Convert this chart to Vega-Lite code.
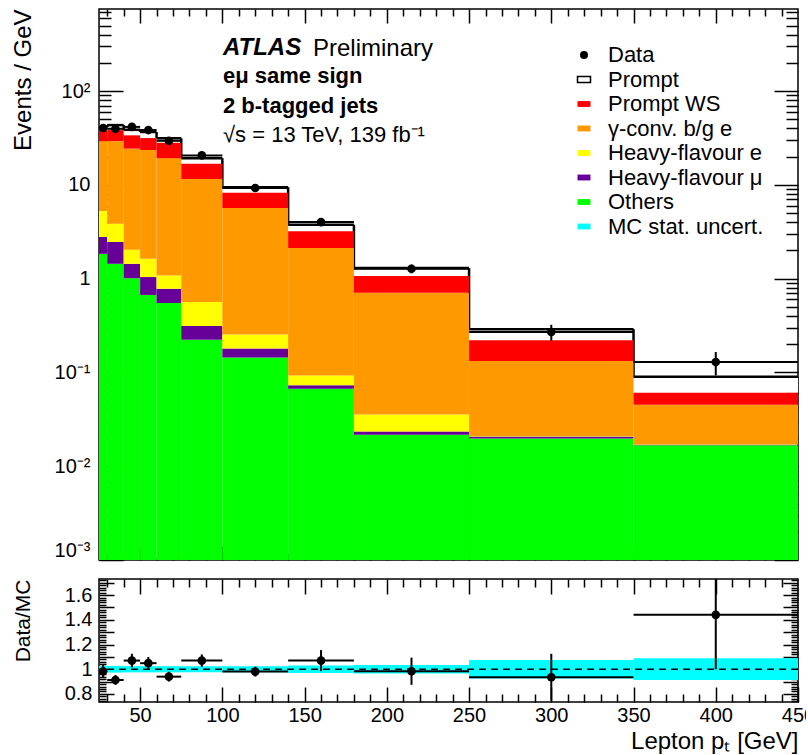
{
  "$schema": "https://vega.github.io/schema/vega-lite/v6.json",
  "padding": {"left": 10, "top": 7, "right": -10, "bottom": 0},
  "bounds": "flush",
  "spacing": 19,
  "config": {
    "view": {"stroke": "black", "strokeWidth": 1.5},
    "font": "Liberation Sans",
    "axis": {"grid": false, "domain": false, "tickColor": "black", "tickWidth": 1.5, "labelColor": "black", "labelFontSize": 20, "labelFont": "Liberation Sans", "titleColor": "black", "titleFontWeight": "normal", "titleFont": "Liberation Sans", "labelFlush": false}
  },
  "title": {"text": "Preliminary", "anchor": "start", "frame": "group", "orient": "top", "offset": 0, "dx": 214, "dy": 53, "font": "Liberation Sans", "fontSize": 24, "fontWeight": "normal", "color": "black"},
  "datasets": {
    "mc": [
      {"lo": 25, "hi": 30, "c": "Others", "k": 1, "v": 1.84},
      {"lo": 25, "hi": 30, "c": "Heavy-flavour μ", "k": 2, "v": 0.94},
      {"lo": 25, "hi": 30, "c": "Heavy-flavour e", "k": 3, "v": 2.48},
      {"lo": 25, "hi": 30, "c": "γ-conv. b/g e", "k": 4, "v": 24.0},
      {"lo": 25, "hi": 30, "c": "Prompt WS", "k": 5, "v": 9.1},
      {"lo": 25, "hi": 30, "c": "Prompt", "k": 6, "v": 2.7},
      {"lo": 30, "hi": 40, "c": "Others", "k": 1, "v": 1.44},
      {"lo": 30, "hi": 40, "c": "Heavy-flavour μ", "k": 2, "v": 1.02},
      {"lo": 30, "hi": 40, "c": "Heavy-flavour e", "k": 3, "v": 1.39},
      {"lo": 30, "hi": 40, "c": "γ-conv. b/g e", "k": 4, "v": 25.4},
      {"lo": 30, "hi": 40, "c": "Prompt WS", "k": 5, "v": 9.1},
      {"lo": 30, "hi": 40, "c": "Prompt", "k": 6, "v": 5.0},
      {"lo": 40, "hi": 50, "c": "Others", "k": 1, "v": 1.01},
      {"lo": 40, "hi": 50, "c": "Heavy-flavour μ", "k": 2, "v": 0.43},
      {"lo": 40, "hi": 50, "c": "Heavy-flavour e", "k": 3, "v": 0.59},
      {"lo": 40, "hi": 50, "c": "γ-conv. b/g e", "k": 4, "v": 22.3},
      {"lo": 40, "hi": 50, "c": "Prompt WS", "k": 5, "v": 9.4},
      {"lo": 40, "hi": 50, "c": "Prompt", "k": 6, "v": 4.9},
      {"lo": 50, "hi": 60, "c": "Others", "k": 1, "v": 0.67},
      {"lo": 50, "hi": 60, "c": "Heavy-flavour μ", "k": 2, "v": 0.37},
      {"lo": 50, "hi": 60, "c": "Heavy-flavour e", "k": 3, "v": 0.59},
      {"lo": 50, "hi": 60, "c": "γ-conv. b/g e", "k": 4, "v": 21.9},
      {"lo": 50, "hi": 60, "c": "Prompt WS", "k": 5, "v": 8.0},
      {"lo": 50, "hi": 60, "c": "Prompt", "k": 6, "v": 5.1},
      {"lo": 60, "hi": 75, "c": "Others", "k": 1, "v": 0.55},
      {"lo": 60, "hi": 75, "c": "Heavy-flavour μ", "k": 2, "v": 0.23},
      {"lo": 60, "hi": 75, "c": "Heavy-flavour e", "k": 3, "v": 0.30},
      {"lo": 60, "hi": 75, "c": "γ-conv. b/g e", "k": 4, "v": 18.2},
      {"lo": 60, "hi": 75, "c": "Prompt WS", "k": 5, "v": 8.8},
      {"lo": 60, "hi": 75, "c": "Prompt", "k": 6, "v": 3.3},
      {"lo": 75, "hi": 100, "c": "Others", "k": 1, "v": 0.223},
      {"lo": 75, "hi": 100, "c": "Heavy-flavour μ", "k": 2, "v": 0.089},
      {"lo": 75, "hi": 100, "c": "Heavy-flavour e", "k": 3, "v": 0.251},
      {"lo": 75, "hi": 100, "c": "γ-conv. b/g e", "k": 4, "v": 11.0},
      {"lo": 75, "hi": 100, "c": "Prompt WS", "k": 5, "v": 5.2},
      {"lo": 75, "hi": 100, "c": "Prompt", "k": 6, "v": 2.5},
      {"lo": 100, "hi": 140, "c": "Others", "k": 1, "v": 0.144},
      {"lo": 100, "hi": 140, "c": "Heavy-flavour μ", "k": 2, "v": 0.036},
      {"lo": 100, "hi": 140, "c": "Heavy-flavour e", "k": 3, "v": 0.073},
      {"lo": 100, "hi": 140, "c": "γ-conv. b/g e", "k": 4, "v": 5.41},
      {"lo": 100, "hi": 140, "c": "Prompt WS", "k": 5, "v": 2.58},
      {"lo": 100, "hi": 140, "c": "Prompt", "k": 6, "v": 1.19},
      {"lo": 140, "hi": 180, "c": "Others", "k": 1, "v": 0.067},
      {"lo": 140, "hi": 180, "c": "Heavy-flavour μ", "k": 2, "v": 0.006},
      {"lo": 140, "hi": 180, "c": "Heavy-flavour e", "k": 3, "v": 0.020},
      {"lo": 140, "hi": 180, "c": "γ-conv. b/g e", "k": 4, "v": 2.03},
      {"lo": 140, "hi": 180, "c": "Prompt WS", "k": 5, "v": 1.07},
      {"lo": 140, "hi": 180, "c": "Prompt", "k": 6, "v": 0.56},
      {"lo": 180, "hi": 250, "c": "Others", "k": 1, "v": 0.0217},
      {"lo": 180, "hi": 250, "c": "Heavy-flavour μ", "k": 2, "v": 0.0018},
      {"lo": 180, "hi": 250, "c": "Heavy-flavour e", "k": 3, "v": 0.0122},
      {"lo": 180, "hi": 250, "c": "γ-conv. b/g e", "k": 4, "v": 0.671},
      {"lo": 180, "hi": 250, "c": "Prompt WS", "k": 5, "v": 0.359},
      {"lo": 180, "hi": 250, "c": "Prompt", "k": 6, "v": 0.23},
      {"lo": 250, "hi": 350, "c": "Others", "k": 1, "v": 0.0197},
      {"lo": 250, "hi": 350, "c": "Heavy-flavour μ", "k": 2, "v": 0.001},
      {"lo": 250, "hi": 350, "c": "Heavy-flavour e", "k": 3, "v": 0.0003},
      {"lo": 250, "hi": 350, "c": "γ-conv. b/g e", "k": 4, "v": 0.1115},
      {"lo": 250, "hi": 350, "c": "Prompt WS", "k": 5, "v": 0.0875},
      {"lo": 250, "hi": 350, "c": "Prompt", "k": 6, "v": 0.069},
      {"lo": 350, "hi": 450, "c": "Others", "k": 1, "v": 0.0167},
      {"lo": 350, "hi": 450, "c": "Heavy-flavour μ", "k": 2, "v": 0.0002},
      {"lo": 350, "hi": 450, "c": "Heavy-flavour e", "k": 3, "v": 0.0001},
      {"lo": 350, "hi": 450, "c": "γ-conv. b/g e", "k": 4, "v": 0.0283},
      {"lo": 350, "hi": 450, "c": "Prompt WS", "k": 5, "v": 0.0155},
      {"lo": 350, "hi": 450, "c": "Prompt", "k": 6, "v": 0.029}
    ],
    "pts": [
      {"x": 27.5, "lo": 25, "hi": 30, "y": 40.4, "ylo": 37.6, "yhi": 43.2, "r": 0.984, "rlo": 0.934, "rhi": 1.034, "ulo": 0.973, "uhi": 1.027},
      {"x": 35, "lo": 30, "hi": 40, "y": 39.6, "ylo": 37.6, "yhi": 41.6, "r": 0.913, "rlo": 0.873, "rhi": 0.953, "ulo": 0.973, "uhi": 1.027},
      {"x": 45, "lo": 40, "hi": 50, "y": 41.5, "ylo": 39.5, "yhi": 43.5, "r": 1.07, "rlo": 1.015, "rhi": 1.125, "ulo": 0.975, "uhi": 1.025},
      {"x": 55, "lo": 50, "hi": 60, "y": 38.4, "ylo": 36.4, "yhi": 40.4, "r": 1.049, "rlo": 0.999, "rhi": 1.099, "ulo": 0.975, "uhi": 1.025},
      {"x": 67.5, "lo": 60, "hi": 75, "y": 29.5, "ylo": 28.1, "yhi": 30.9, "r": 0.94, "rlo": 0.9, "rhi": 0.98, "ulo": 0.975, "uhi": 1.025},
      {"x": 87.5, "lo": 75, "hi": 100, "y": 20.6, "ylo": 19.7, "yhi": 21.5, "r": 1.07, "rlo": 1.02, "rhi": 1.12, "ulo": 0.975, "uhi": 1.025},
      {"x": 120, "lo": 100, "hi": 140, "y": 9.25, "ylo": 8.77, "yhi": 9.73, "r": 0.981, "rlo": 0.941, "rhi": 1.021, "ulo": 0.975, "uhi": 1.025},
      {"x": 160, "lo": 140, "hi": 180, "y": 4.01, "ylo": 3.69, "yhi": 4.33, "r": 1.07, "rlo": 0.985, "rhi": 1.155, "ulo": 0.97, "uhi": 1.03},
      {"x": 215, "lo": 180, "hi": 250, "y": 1.275, "ylo": 1.14, "yhi": 1.41, "r": 0.984, "rlo": 0.874, "rhi": 1.094, "ulo": 0.965, "uhi": 1.035},
      {"x": 300, "lo": 250, "hi": 350, "y": 0.27, "ylo": 0.218, "yhi": 0.322, "r": 0.935, "rlo": 0.745, "rhi": 1.125, "ulo": 0.925, "uhi": 1.075},
      {"x": 400, "lo": 350, "hi": 450, "y": 0.129, "ylo": 0.093, "yhi": 0.165, "r": 1.44, "rlo": 1.0, "rhi": 2.0, "ulo": 0.912, "uhi": 1.088}
    ]
  },
  "vconcat": [
    {
      "width": 699,
      "height": 551,
      "title": {"text": "ATLAS", "subtitle": ["eμ same sign", "2 b-tagged jets"], "anchor": "start", "frame": "group", "orient": "top", "offset": 0, "dx": 124, "dy": 109, "font": "Liberation Sans", "fontSize": 24, "fontWeight": "bold", "fontStyle": "italic", "color": "black", "subtitleFont": "Liberation Sans", "subtitleFontSize": 22, "subtitleFontWeight": "bold", "subtitleColor": "black", "subtitlePadding": 6, "subtitleLineHeight": 30},
      "resolve": {"axis": {"x": "independent", "y": "independent"}},
      "layer": [
        {
          "data": {"name": "mc"},
          "transform": [
            {"stack": "v", "groupby": ["lo"], "sort": [{"field": "k", "order": "ascending"}], "as": ["v0", "v1"]},
            {"filter": "datum.c === 'Prompt'"}
          ],
          "mark": {"type": "rect", "fill": "white"},
          "encoding": {
            "x": {"field": "lo", "type": "quantitative", "scale": {"domain": [25, 450], "nice": false, "zero": false},
                  "axis": {"orient": "bottom", "values": [50, 100, 150, 200, 250, 300, 350, 400], "labels": false, "tickSize": -14, "title": null}},
            "x2": {"field": "hi"},
            "y": {"field": "v0", "type": "quantitative", "scale": {"type": "log", "domain": [0.001, 750], "nice": false, "clamp": true},
                  "axis": {"orient": "left", "values": [0.001, 0.01, 0.1, 1, 10, 100], "tickSize": -24, "labelPadding": 33, "labelFlush": 1,
                           "labelExpr": "datum.value == 100 ? '10²' : datum.value == 10 ? '10' : datum.value == 1 ? '1' : datum.value == 0.1 ? '10⁻¹' : datum.value == 0.01 ? '10⁻²' : '10⁻³'",
                           "title": "Events / GeV", "titleFontSize": 24, "titleAnchor": "end", "titleX": -76, "titleBaseline": "middle", "titleAngle": -90}},
            "y2": {"field": "v1"}
          }
        },
        {
          "data": {"name": "mc"},
          "transform": [
            {"stack": "v", "groupby": ["lo"], "sort": [{"field": "k", "order": "ascending"}], "as": ["v0", "v1"]},
            {"filter": "datum.c === 'Prompt'"},
            {"window": [{"op": "lead", "field": "v1", "as": "nxt"}], "sort": [{"field": "lo", "order": "ascending"}]},
            {"filter": "isValid(datum.nxt)"}
          ],
          "mark": {"type": "rule", "color": "black", "strokeWidth": 2.5},
          "encoding": {
            "x": {"field": "hi", "type": "quantitative",
                  "axis": {"orient": "bottom", "values": [30, 40, 60, 70, 80, 90, 110, 120, 130, 140, 160, 170, 180, 190, 210, 220, 230, 240, 260, 270, 280, 290, 310, 320, 330, 340, 360, 370, 380, 390, 410, 420, 430, 440], "labels": false, "tickSize": -7, "title": null}},
            "y": {"field": "v1", "type": "quantitative",
                  "axis": {"orient": "left", "values": [0.002, 0.003, 0.004, 0.005, 0.006, 0.007, 0.008, 0.009, 0.02, 0.03, 0.04, 0.05, 0.06, 0.07, 0.08, 0.09, 0.2, 0.3, 0.4, 0.5, 0.6, 0.7, 0.8, 0.9, 2, 3, 4, 5, 6, 7, 8, 9, 20, 30, 40, 50, 60, 70, 80, 90, 200, 300, 400, 500, 600, 700], "labels": false, "tickSize": -12, "title": null}},
            "y2": {"field": "nxt"}
          }
        },
        {
          "data": {"name": "mc"},
          "transform": [
            {"stack": "v", "groupby": ["lo"], "sort": [{"field": "k", "order": "ascending"}], "as": ["v0", "v1"]},
            {"filter": "datum.c !== 'Prompt'"}
          ],
          "mark": {"type": "rect"},
          "encoding": {
            "x": {"field": "lo", "type": "quantitative",
                  "axis": {"orient": "top", "values": [50, 100, 150, 200, 250, 300, 350, 400], "labels": false, "tickSize": -14, "title": null}},
            "x2": {"field": "hi"},
            "y": {"field": "v0", "type": "quantitative",
                  "axis": {"orient": "right", "values": [0.001, 0.01, 0.1, 1, 10, 100], "labels": false, "tickSize": -24, "title": null}},
            "y2": {"field": "v1"},
            "color": {"field": "c", "type": "nominal",
                      "scale": {"domain": ["Data", "Prompt", "Prompt WS", "γ-conv. b/g e", "Heavy-flavour e", "Heavy-flavour μ", "Others", "MC stat. uncert."],
                                "range": ["#000000", "#ffffff", "#ff0000", "#ff9900", "#ffff00", "#660099", "#00ff00", "#00ffff"]},
                      "legend": {"orient": "none", "legendX": 474, "legendY": 35, "title": null, "labelFont": "Liberation Sans", "labelFontSize": 22, "labelColor": "black", "labelLimit": 400, "rowPadding": 2.5, "symbolSize": 169, "labelOffset": 13, "symbolStrokeWidth": 1.5,
                                 "encode": {"symbols": {"update": {
                                   "shape": {"signal": "datum.value === 'Data' ? 'circle' : 'M-1,-0.45H1V0.45H-1Z'"},
                                   "size": {"signal": "datum.value === 'Data' ? 64 : 169"},
                                   "stroke": {"signal": "datum.value === 'Prompt' ? 'black' : 'transparent'"},
                                   "strokeWidth": {"value": 1.5},
                                   "opacity": {"value": 1},
                                   "fillOpacity": {"value": 1}
                                 }}}}}
          }
        },
        {
          "data": {"name": "mc"},
          "transform": [
            {"stack": "v", "groupby": ["lo"], "sort": [{"field": "k", "order": "ascending"}], "as": ["v0", "v1"]},
            {"filter": "datum.c === 'Prompt'"}
          ],
          "mark": {"type": "rule", "color": "black", "strokeWidth": 2.5},
          "encoding": {
            "x": {"field": "lo", "type": "quantitative",
                  "axis": {"orient": "top", "values": [30, 40, 60, 70, 80, 90, 110, 120, 130, 140, 160, 170, 180, 190, 210, 220, 230, 240, 260, 270, 280, 290, 310, 320, 330, 340, 360, 370, 380, 390, 410, 420, 430, 440], "labels": false, "tickSize": -7, "title": null}},
            "x2": {"field": "hi"},
            "y": {"field": "v1", "type": "quantitative",
                  "axis": {"orient": "right", "values": [0.002, 0.003, 0.004, 0.005, 0.006, 0.007, 0.008, 0.009, 0.02, 0.03, 0.04, 0.05, 0.06, 0.07, 0.08, 0.09, 0.2, 0.3, 0.4, 0.5, 0.6, 0.7, 0.8, 0.9, 2, 3, 4, 5, 6, 7, 8, 9, 20, 30, 40, 50, 60, 70, 80, 90, 200, 300, 400, 500, 600, 700], "labels": false, "tickSize": -12, "title": null}}
          }
        },
        {
          "data": {"name": "pts"},
          "mark": {"type": "rule", "color": "black", "strokeWidth": 2},
          "encoding": {
            "x": {"field": "x", "type": "quantitative", "axis": null},
            "y": {"field": "ylo", "type": "quantitative", "axis": null},
            "y2": {"field": "yhi"}
          }
        },
        {
          "data": {"name": "pts"},
          "mark": {"type": "rule", "color": "black", "strokeWidth": 2},
          "encoding": {
            "x": {"field": "lo", "type": "quantitative", "axis": null},
            "x2": {"field": "hi"},
            "y": {"field": "y", "type": "quantitative", "axis": null}
          }
        },
        {
          "data": {"name": "pts"},
          "mark": {"type": "point", "filled": true, "size": 75, "color": "black", "opacity": 1},
          "encoding": {
            "x": {"field": "x", "type": "quantitative", "axis": null},
            "y": {"field": "y", "type": "quantitative", "axis": null}
          }
        }
      ]
    },
    {
      "width": 699,
      "height": 123,
      "data": {"name": "pts"},
      "title": {"text": "√s = 13 TeV, 139 fb⁻¹", "anchor": "start", "frame": "group", "orient": "top", "offset": 0, "dx": 124, "dy": -431, "font": "Liberation Sans", "fontSize": 22, "fontWeight": "normal", "color": "black"},
      "resolve": {"axis": {"x": "independent", "y": "independent"}},
      "layer": [
        {
          "mark": {"type": "rect", "fill": "#00ffff"},
          "encoding": {
            "x": {"field": "lo", "type": "quantitative", "scale": {"domain": [25, 450], "nice": false, "zero": false},
                  "axis": {"orient": "bottom", "values": [50, 100, 150, 200, 250, 300, 350, 400, 450], "tickSize": -15, "labelPadding": 18,
                           "title": "Lepton pₜ [GeV]", "titleFontSize": 24, "titleAnchor": "end", "titlePadding": 4}},
            "x2": {"field": "hi"},
            "y": {"field": "ulo", "type": "quantitative", "scale": {"domain": [0.735, 1.73], "nice": false, "zero": false},
                  "axis": {"orient": "left", "values": [0.8, 0.9, 1, 1.1, 1.2, 1.3, 1.4, 1.5, 1.6, 1.7], "tickSize": -15, "labelPadding": 22, "format": "~g",
                           "labelExpr": "round(datum.value * 10) % 2 == 0 ? datum.label : ''",
                           "title": "Data/MC", "titleFontSize": 21, "titleAnchor": "end", "titleX": -76, "titleBaseline": "middle", "titleAngle": -90}},
            "y2": {"field": "uhi"}
          }
        },
        {
          "data": {"values": [{"ref": 1}]},
          "mark": {"type": "rule", "color": "black", "strokeWidth": 1.5, "strokeDash": [7, 5]},
          "encoding": {
            "y": {"field": "ref", "type": "quantitative",
                  "axis": {"orient": "left", "values": [0.74, 0.76, 0.78, 0.82, 0.84, 0.86, 0.88, 0.92, 0.94, 0.96, 0.98, 1.02, 1.04, 1.06, 1.08, 1.12, 1.14, 1.16, 1.18, 1.22, 1.24, 1.26, 1.28, 1.32, 1.34, 1.36, 1.38, 1.42, 1.44, 1.46, 1.48, 1.52, 1.54, 1.56, 1.58, 1.62, 1.64, 1.66, 1.68, 1.72], "labels": false, "tickSize": -7, "title": null}}
          }
        },
        {
          "mark": {"type": "rule", "color": "black", "strokeWidth": 2, "clip": true},
          "encoding": {
            "x": {"field": "x", "type": "quantitative",
                  "axis": {"orient": "bottom", "values": [30, 40, 60, 70, 80, 90, 110, 120, 130, 140, 160, 170, 180, 190, 210, 220, 230, 240, 260, 270, 280, 290, 310, 320, 330, 340, 360, 370, 380, 390, 410, 420, 430, 440], "labels": false, "tickSize": -8, "title": null}},
            "y": {"field": "rlo", "type": "quantitative",
                  "axis": {"orient": "right", "values": [0.8, 0.9, 1, 1.1, 1.2, 1.3, 1.4, 1.5, 1.6, 1.7], "labels": false, "tickSize": -15, "title": null}},
            "y2": {"field": "rhi"}
          }
        },
        {
          "mark": {"type": "rule", "color": "black", "strokeWidth": 2, "clip": true},
          "encoding": {
            "x": {"field": "lo", "type": "quantitative",
                  "axis": {"orient": "top", "values": [50, 100, 150, 200, 250, 300, 350, 400], "labels": false, "tickSize": -15, "title": null}},
            "x2": {"field": "hi"},
            "y": {"field": "r", "type": "quantitative",
                  "axis": {"orient": "right", "values": [0.74, 0.76, 0.78, 0.82, 0.84, 0.86, 0.88, 0.92, 0.94, 0.96, 0.98, 1.02, 1.04, 1.06, 1.08, 1.12, 1.14, 1.16, 1.18, 1.22, 1.24, 1.26, 1.28, 1.32, 1.34, 1.36, 1.38, 1.42, 1.44, 1.46, 1.48, 1.52, 1.54, 1.56, 1.58, 1.62, 1.64, 1.66, 1.68, 1.72], "labels": false, "tickSize": -7, "title": null}}
          }
        },
        {
          "mark": {"type": "point", "filled": true, "size": 75, "color": "black", "opacity": 1, "clip": true},
          "encoding": {
            "x": {"field": "x", "type": "quantitative",
                  "axis": {"orient": "top", "values": [30, 40, 60, 70, 80, 90, 110, 120, 130, 140, 160, 170, 180, 190, 210, 220, 230, 240, 260, 270, 280, 290, 310, 320, 330, 340, 360, 370, 380, 390, 410, 420, 430, 440], "labels": false, "tickSize": -8, "title": null}},
            "y": {"field": "r", "type": "quantitative", "axis": null}
          }
        }
      ]
    }
  ]
}
